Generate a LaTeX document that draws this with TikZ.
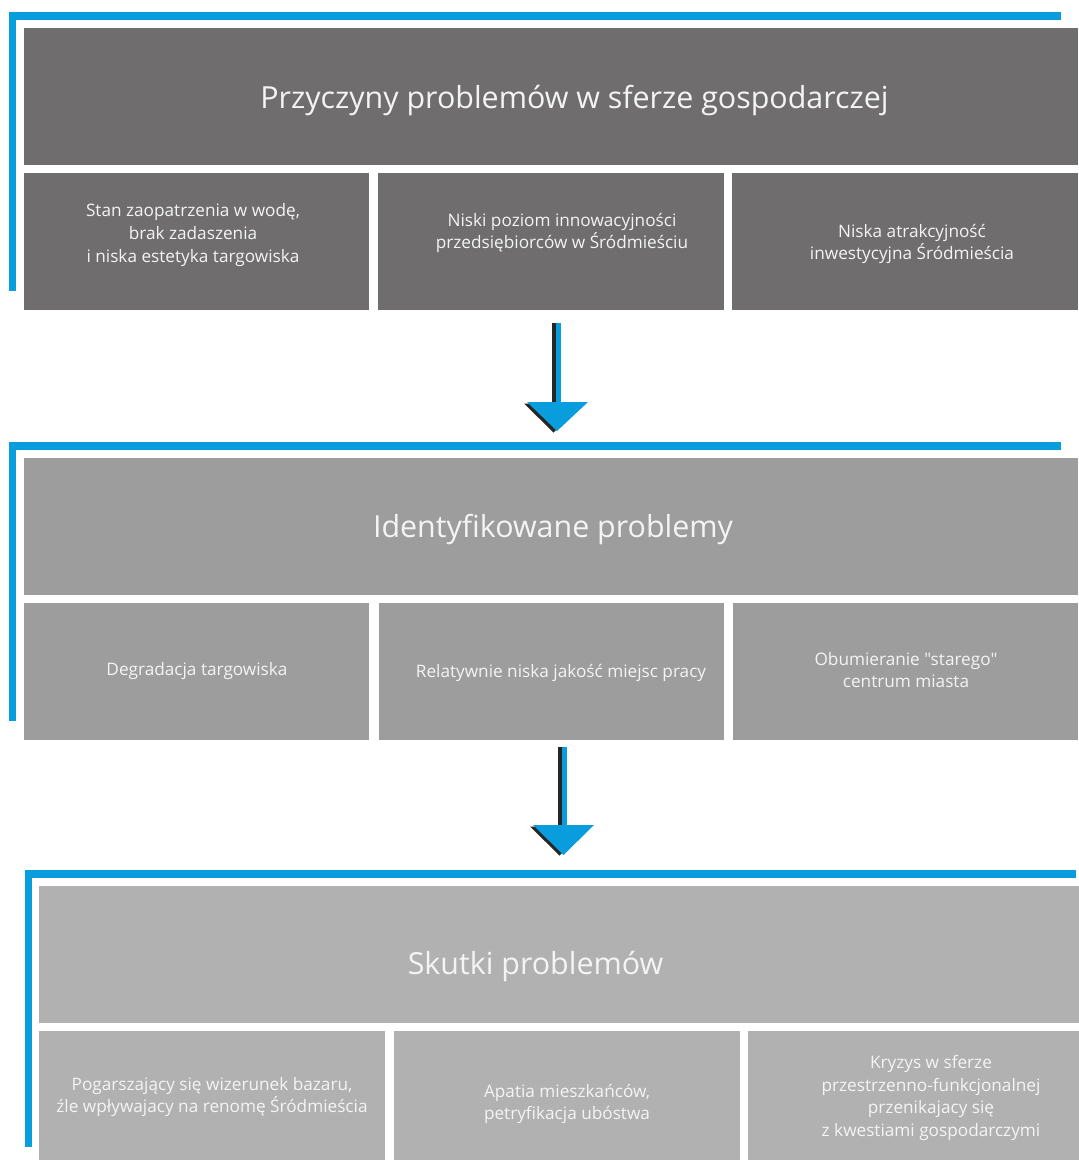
\documentclass[tikz,border=0pt]{standalone}
\usepackage{fontspec}
\setmainfont{Open Sans}[Ligatures=TeXOff]
\definecolor{blu}{HTML}{0A9DDD}
\definecolor{gA}{HTML}{6F6D6E}
\definecolor{gB}{HTML}{9D9D9D}
\definecolor{gC}{HTML}{B1B1B1}
\definecolor{txA}{HTML}{F4F4F4}
\tikzset{
  box/.style={rectangle, draw=none, inner sep=0pt, anchor=north west},
  lbl/.style={inner sep=0pt, align=center, text=txA, font=\fontsize{17.2}{22.8}\selectfont},
  ttl/.style={inner sep=0pt, align=center, text=txA, font=\fontsize{30.4}{36}\selectfont},
  frame/.style={blu, line width=7.5pt, line join=miter, line cap=butt}
}
\begin{document}
\begin{tikzpicture}[x=1pt,y=-1pt]
\useasboundingbox[fill=white] (0,0) rectangle (1079,1160);

% ---------- section 1 ----------
\draw[frame] (1060.5,16) -- (12.5,16) -- (12.5,291);
\node[box, fill=gA, minimum width=1054pt, minimum height=137pt] (h1) at (24,28) {};
\node[ttl] (t1) at (574.5,101) {Przyczyny problemów w sferze gospodarczej};
\node[box, fill=gA, minimum width=345pt, minimum height=137pt] (s11) at (24,173) {};
\node[box, fill=gA, minimum width=346pt, minimum height=137pt] (s12) at (378,173) {};
\node[box, fill=gA, minimum width=346pt, minimum height=137pt] (s13) at (732,173) {};
\node[lbl] (l11) at (193,235) {Stan zaopatrzenia w wodę,\\brak zadaszenia\\i niska estetyka targowiska};
\node[lbl] (l12) at (562,233) {Niski poziom innowacyjności\\przedsiębiorców w Śródmieściu};
\node[lbl] (l13) at (912,244) {Niska atrakcyjność\\inwestycyjna Śródmieścia};

% ---------- arrow 1 ----------
\coordinate (a1t) at (556,323);
\coordinate (a1h) at (556,402);
\fill[black!85] ([xshift=-4.5pt]a1t) rectangle (a1h);
\fill[black!85] ([xshift=-32pt,yshift=-1.5pt]a1h) -- ([xshift=27pt,yshift=-1.5pt]a1h) -- ([xshift=-2.5pt,yshift=-30.5pt]a1h) -- cycle;
\fill[blu] (a1t) rectangle ([xshift=5pt]a1h);
\fill[blu] ([xshift=-29pt]a1h) -- ([xshift=32pt]a1h) -- ([xshift=1pt,yshift=-29pt]a1h) -- cycle;

% ---------- section 2 ----------
\draw[frame] (1061,446) -- (12.5,446) -- (12.5,721);
\node[box, fill=gB, minimum width=1054pt, minimum height=137pt] (h2) at (24,458) {};
\node[ttl] (t2) at (553,530) {Identyfikowane problemy};
\node[box, fill=gB, minimum width=345pt, minimum height=137pt] (s21) at (24,603) {};
\node[box, fill=gB, minimum width=345pt, minimum height=137pt] (s22) at (379,603) {};
\node[box, fill=gB, minimum width=345pt, minimum height=137pt] (s23) at (733,603) {};
\node[lbl] (l21) at (197,671) {Degradacja targowiska};
\node[lbl] (l22) at (561,673) {Relatywnie niska jakość miejsc pracy};
\node[lbl] (l23) at (906,670) {Obumieranie "starego"\\centrum miasta};

% ---------- arrow 2 ----------
\coordinate (a2t) at (562,747);
\coordinate (a2h) at (562,825);
\fill[black!85] ([xshift=-4.5pt]a2t) rectangle (a2h);
\fill[black!85] ([xshift=-32pt,yshift=-1.5pt]a2h) -- ([xshift=27pt,yshift=-1.5pt]a2h) -- ([xshift=-2.5pt,yshift=-30.5pt]a2h) -- cycle;
\fill[blu] (a2t) rectangle ([xshift=5pt]a2h);
\fill[blu] ([xshift=-29pt]a2h) -- ([xshift=32pt]a2h) -- ([xshift=1.5pt,yshift=-30pt]a2h) -- cycle;

% ---------- section 3 ----------
\draw[frame] (1076,874) -- (28.5,874) -- (28.5,1147);
\node[box, fill=gC, minimum width=1040pt, minimum height=137pt] (h3) at (39,886) {};
\node[ttl] (t3) at (535.5,966) {Skutki problemów};
\node[box, fill=gC, minimum width=346pt, minimum height=129pt] (s31) at (39,1031) {};
\node[box, fill=gC, minimum width=346pt, minimum height=129pt] (s32) at (394,1031) {};
\node[box, fill=gC, minimum width=331pt, minimum height=129pt] (s33) at (748,1031) {};
\node[lbl] (l31) at (212,1097) {Pogarszający się wizerunek bazaru,\\źle wpływajacy na renomę Śródmieścia};
\node[lbl] (l32) at (567,1104) {Apatia mieszkańców,\\petryfikacja ubóstwa};
\node[lbl] (l33) at (931,1098) {Kryzys w sferze\\przestrzenno-funkcjonalnej\\przenikajacy się\\z kwestiami gospodarczymi};
\end{tikzpicture}
\end{document}
